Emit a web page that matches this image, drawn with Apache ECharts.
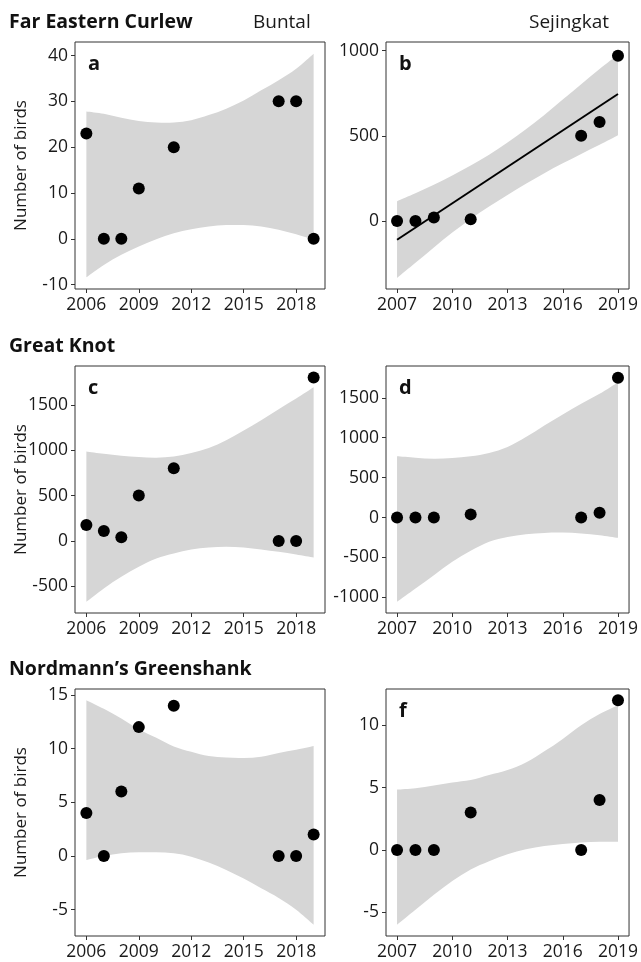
<!DOCTYPE html>
<html>
<head>
<meta charset="utf-8">
<script src="https://cdn.jsdelivr.net/npm/echarts@6/dist/echarts.min.js"></script>
<style>
  html, body { margin: 0; padding: 0; background: #ffffff; }
  #chart { width: 641px; height: 962px; }
</style>
</head>
<body>
<div id="chart"></div>
<script>
// Survey years at each site
const yearsBuntal = [2006, 2007, 2008, 2009, 2011, 2017, 2018, 2019];
const yearsSejingkat = [2007, 2008, 2009, 2011, 2017, 2018, 2019];

// Counts (number of birds)
const curlewBuntal = [23, 0, 0, 11, 20, 30, 30, 0];
const curlewSejingkat = [0, 0, 20, 10, 500, 580, 970];
const knotBuntal = [175, 110, 40, 500, 800, 0, 0, 1800];
const knotSejingkat = [0, 0, 0, 40, 0, 60, 1750];
const greenshankBuntal = [4, 0, 6, 12, 14, 0, 0, 2];
const greenshankSejingkat = [0, 0, 0, 3, 0, 4, 12];

// Years at which the confidence ribbons are sampled
const bandYearsBuntal = [2006, 2007, 2008, 2009, 2010, 2011, 2012, 2013, 2014, 2015, 2016, 2017, 2018, 2019];
const bandYearsSejingkat = [2007, 2008, 2009, 2010, 2011, 2012, 2013, 2014, 2015, 2016, 2017, 2018, 2019];

// Confidence ribbons: upper and lower limits
const curlewBuntalUpper = [27.8, 27.3, 26.4, 25.7, 25.4, 25.4, 25.9, 27.0, 28.4, 30.2, 32.4, 34.6, 37.1, 40.4];
const curlewBuntalLower = [-8.4, -5.7, -3.5, -1.7, -0.1, 1.2, 2.1, 2.7, 3.0, 3.0, 2.7, 2.0, 1.0, -0.2];
const curlewSejingkatUpper = [116, 162, 212, 267, 326, 389, 460, 538, 622, 712, 802, 892, 975];
const curlewSejingkatLower = [-334, -245, -155, -68, 12, 85, 153, 218, 280, 338, 393, 447, 503];
const knotBuntalUpper = [986, 960, 938, 924, 917, 930, 968, 1025, 1110, 1217, 1330, 1452, 1570, 1694];
const knotBuntalLower = [-671, -524, -396, -286, -194, -139, -95, -73, -66, -73, -95, -121, -150, -183];
const knotSejingkatUpper = [767, 750, 737, 746, 767, 808, 883, 1008, 1154, 1292, 1425, 1550, 1696];
const knotSejingkatLower = [-1054, -888, -721, -554, -417, -304, -242, -208, -192, -188, -200, -221, -254];
const greenshankBuntalUpper = [14.5, 13.7, 12.8, 11.8, 11.0, 10.2, 9.7, 9.3, 9.16, 9.13, 9.25, 9.6, 9.9, 10.25];
const greenshankBuntalLower = [-0.37, 0, 0.25, 0.34, 0.34, 0.25, -0.06, -0.6, -1.3, -2.1, -3.0, -3.9, -5.0, -6.4];
const greenshankSejingkatUpper = [4.84, 4.95, 5.16, 5.4, 5.6, 6.0, 6.4, 7.0, 7.9, 8.9, 10.0, 10.9, 11.6];
const greenshankSejingkatLower = [-6.0, -4.8, -3.6, -2.5, -1.56, -0.9, -0.35, 0.05, 0.32, 0.48, 0.6, 0.65, 0.65];

// Linear trend for curlews at Sejingkat (end points of the fitted line)
const curlewSejingkatFitYears = [2007, 2019];
const curlewSejingkatFitValues = [-110, 745];

// Axis ticks
const ticksYearBuntal = [2006, 2009, 2012, 2015, 2018];
const ticksYearSejingkat = [2007, 2010, 2013, 2016, 2019];
const ticksCurlewBuntal = [-10, 0, 10, 20, 30, 40];
const ticksCurlewSejingkat = [0, 500, 1000];
const ticksKnotBuntal = [-500, 0, 500, 1000, 1500];
const ticksKnotSejingkat = [-1000, -500, 0, 500, 1000, 1500];
const ticksGreenshankBuntal = [-5, 0, 5, 10, 15];
const ticksGreenshankSejingkat = [-5, 0, 5, 10];

// Axis extents
const xRangeBuntal = [2005.35, 2019.65];
const xRangeSejingkat = [2006.4, 2019.6];
const yRangeCurlewBuntal = [-10.95, 42.95];
const yRangeCurlewSejingkat = [-399, 1050];
const yRangeKnotBuntal = [-795, 1928];
const yRangeKnotSejingkat = [-1195, 1898];
const yRangeGreenshankBuntal = [-7.45, 15.55];
const yRangeGreenshankSejingkat = [-6.9, 12.9];

const FONT = '"Open Sans", "Noto Sans", sans-serif';
const INK = '#333333';
const TEXT = '#1a1a1a';
const RIBBON = '#d6d6d6';

const panels = [
  { letter: 'a', years: yearsBuntal, counts: curlewBuntal, bandYears: bandYearsBuntal,
    upper: curlewBuntalUpper, lower: curlewBuntalLower, xTicks: ticksYearBuntal, yTicks: ticksCurlewBuntal,
    xRange: xRangeBuntal, yRange: yRangeCurlewBuntal },
  { letter: 'b', years: yearsSejingkat, counts: curlewSejingkat, bandYears: bandYearsSejingkat,
    upper: curlewSejingkatUpper, lower: curlewSejingkatLower, xTicks: ticksYearSejingkat, yTicks: ticksCurlewSejingkat,
    xRange: xRangeSejingkat, yRange: yRangeCurlewSejingkat,
    fitYears: curlewSejingkatFitYears, fitValues: curlewSejingkatFitValues },
  { letter: 'c', years: yearsBuntal, counts: knotBuntal, bandYears: bandYearsBuntal,
    upper: knotBuntalUpper, lower: knotBuntalLower, xTicks: ticksYearBuntal, yTicks: ticksKnotBuntal,
    xRange: xRangeBuntal, yRange: yRangeKnotBuntal },
  { letter: 'd', years: yearsSejingkat, counts: knotSejingkat, bandYears: bandYearsSejingkat,
    upper: knotSejingkatUpper, lower: knotSejingkatLower, xTicks: ticksYearSejingkat, yTicks: ticksKnotSejingkat,
    xRange: xRangeSejingkat, yRange: yRangeKnotSejingkat },
  { letter: 'e', years: yearsBuntal, counts: greenshankBuntal, bandYears: bandYearsBuntal,
    upper: greenshankBuntalUpper, lower: greenshankBuntalLower, xTicks: ticksYearBuntal, yTicks: ticksGreenshankBuntal,
    xRange: xRangeBuntal, yRange: yRangeGreenshankBuntal },
  { letter: 'f', years: yearsSejingkat, counts: greenshankSejingkat, bandYears: bandYearsSejingkat,
    upper: greenshankSejingkatUpper, lower: greenshankSejingkatLower, xTicks: ticksYearSejingkat, yTicks: ticksGreenshankSejingkat,
    xRange: xRangeSejingkat, yRange: yRangeGreenshankSejingkat }
];

// Panel boxes in pixels: two columns, three rows
const colLeft = [75, 386];
const colWidth = [250, 250];
const rowTop = [42, 366, 689];
const rowHeight = [247, 247, 247];

const pairs = (xs, ys) => xs.map((x, i) => [x, ys[i]]);

// Smooth path through pixel points (Catmull-Rom written as cubic Beziers)
function smoothSegments(pts) {
  let d = '';
  for (let i = 0; i < pts.length - 1; i++) {
    const p0 = pts[Math.max(i - 1, 0)], p1 = pts[i], p2 = pts[i + 1], p3 = pts[Math.min(i + 2, pts.length - 1)];
    const c1x = p1[0] + (p2[0] - p0[0]) / 6, c1y = p1[1] + (p2[1] - p0[1]) / 6;
    const c2x = p2[0] - (p3[0] - p1[0]) / 6, c2y = p2[1] - (p3[1] - p1[1]) / 6;
    d += ' C' + c1x + ' ' + c1y + ' ' + c2x + ' ' + c2y + ' ' + p2[0] + ' ' + p2[1];
  }
  return d;
}

function ribbonRenderer(p) {
  return function (params, api) {
    const up = p.bandYears.map((x, k) => api.coord([x, p.upper[k]]));
    const lo = p.bandYears.map((x, k) => api.coord([x, p.lower[k]])).reverse();
    const d = 'M' + up[0][0] + ' ' + up[0][1] + smoothSegments(up) +
      ' L' + lo[0][0] + ' ' + lo[0][1] + smoothSegments(lo) + ' Z';
    return { type: 'path', shape: { pathData: d }, style: { fill: RIBBON, stroke: null } };
  };
}

const grids = [], xAxes = [], yAxes = [], series = [], graphics = [];
const plainNumber = v => String(v);

panels.forEach((p, i) => {
  const col = i % 2, row = Math.floor(i / 2);
  grids.push({
    left: colLeft[col], top: rowTop[row], width: colWidth[col], height: rowHeight[row],
    show: true, borderColor: INK, borderWidth: 1, backgroundColor: 'transparent',
    containLabel: false
  });
  xAxes.push({
    type: 'value', gridIndex: i, min: p.xRange[0], max: p.xRange[1], position: 'bottom',
    axisLine: { show: false, onZero: false },
    axisTick: { show: true, length: 4, lineStyle: { color: INK, width: 1 }, customValues: p.xTicks },
    axisLabel: { show: true, customValues: p.xTicks, formatter: plainNumber,
      fontFamily: FONT, fontSize: 17.5, color: TEXT, margin: 7 },
    splitLine: { show: false }
  });
  yAxes.push({
    type: 'value', gridIndex: i, min: p.yRange[0], max: p.yRange[1], position: 'left',
    axisLine: { show: false, onZero: false },
    axisTick: { show: true, length: 4, lineStyle: { color: INK, width: 1 }, customValues: p.yTicks },
    axisLabel: { show: true, customValues: p.yTicks, formatter: plainNumber,
      fontFamily: FONT, fontSize: 17.5, color: TEXT, margin: 7 },
    splitLine: { show: false }
  });

  series.push({
    type: 'custom', xAxisIndex: i, yAxisIndex: i,
    data: [[p.bandYears[0], p.lower[0]]],
    renderItem: ribbonRenderer(p), silent: true, z: 1
  });

  if (p.fitYears) {
    series.push({
      type: 'line', xAxisIndex: i, yAxisIndex: i, data: pairs(p.fitYears, p.fitValues),
      symbol: 'none', lineStyle: { color: '#000', width: 2 }, silent: true, z: 2
    });
  }

  series.push({
    type: 'scatter', xAxisIndex: i, yAxisIndex: i, data: pairs(p.years, p.counts),
    symbol: 'circle', symbolSize: 12, itemStyle: { color: '#000', opacity: 1 },
    clip: false, silent: true, z: 3
  });

  // Panel letter
  graphics.push({
    type: 'text', x: colLeft[col] + 13, y: rowTop[row] + 27.5 - 5.6,
    style: { text: p.letter, font: 'bold 20px ' + FONT, fill: '#111', align: 'left', verticalAlign: 'middle' }
  });
});

// Species headings, site names and y-axis titles
const headings = ['Far Eastern Curlew', 'Great Knot', 'Nordmann\u2019s Greenshank'];
headings.forEach((t, r) => {
  graphics.push({
    type: 'text', x: 9, y: rowTop[r] - 14.5 - 5.5,
    style: { text: t, font: 'bold 19.5px ' + FONT, fill: '#111', align: 'left', verticalAlign: 'middle' }
  });
  graphics.push({
    type: 'text', x: 21, y: rowTop[r] + rowHeight[r] / 2, rotation: Math.PI / 2,
    style: { text: 'Number of birds', font: '17px ' + FONT, fill: TEXT, align: 'center', verticalAlign: 'middle' }
  });
});
const sites = ['Buntal', 'Sejingkat'];
const siteX = [253, 529];
sites.forEach((s, k) => {
  graphics.push({
    type: 'text', x: siteX[k], y: 28 - 5.4,
    style: { text: s, font: '19px ' + FONT, fill: TEXT, align: 'left', verticalAlign: 'middle' }
  });
});

const chart = echarts.init(document.getElementById('chart'), null, { renderer: 'canvas' });
chart.setOption({
  animation: false,
  backgroundColor: '#ffffff',
  grid: grids,
  xAxis: xAxes,
  yAxis: yAxes,
  series: series,
  graphic: { elements: graphics }
});
</script>
</body>
</html>
